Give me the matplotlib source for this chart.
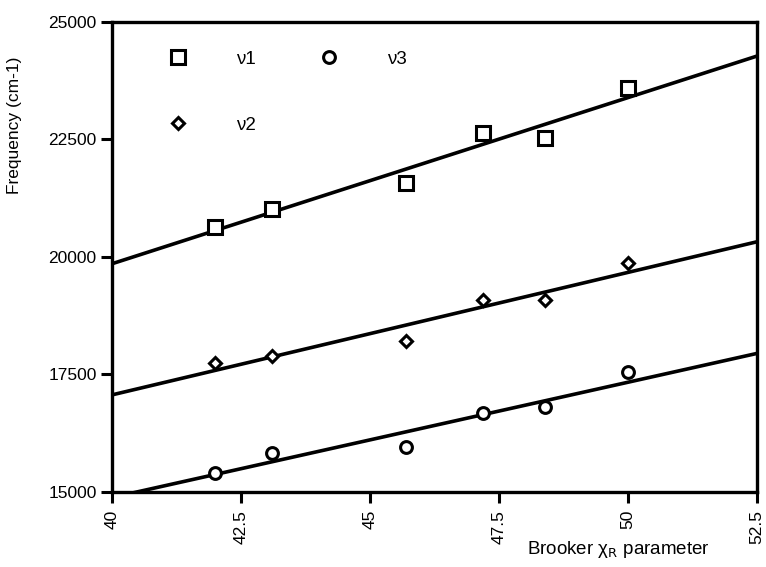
import numpy as np
import matplotlib
matplotlib.use("Agg")
import matplotlib.pyplot as plt

plt.rcParams['font.family'] = ['Liberation Sans', 'DejaVu Sans']

# Brooker chi_R parameter for each compound
chi_r = [42.0, 43.1, 45.7, 47.2, 48.4, 50.0]

# band frequencies (cm-1)
nu1 = [20640, 21020, 21570, 22640, 22530, 23600]
nu2 = [17740, 17890, 18210, 19085, 19085, 19870]
nu3 = [15400, 15830, 15960, 16680, 16800, 17550]

xticks = [40, 42.5, 45, 47.5, 50, 52.5]
xticklabels = ["40", "42.5", "45", "47.5", "50", "52.5"]
yticks = [15000, 17500, 20000, 22500, 25000]

fig = plt.figure(figsize=(7.66, 5.67), dpi=100)
ax = fig.add_axes([0.1462, 0.1323, 0.842, 0.829])

xfit = np.array([40, 52.5])
series = [
    (nu1, 's', 9.5, "ν1"),
    (nu2, 'D', 6, "ν2"),
    (nu3, 'o', 8.5, "ν3"),
]
handles = []
for vals, mk, ms, lab in series:
    # least squares line through each set
    p = np.polyfit(chi_r, vals, 1)
    ax.plot(xfit, np.polyval(p, xfit), color='black', lw=2.6, zorder=2)
    h, = ax.plot(chi_r, vals, linestyle='none', marker=mk, markersize=ms,
                 markerfacecolor='white', markeredgecolor='black',
                 markeredgewidth=2.2, zorder=3, label=lab)
    handles.append(h)

ax.set_xlim(40, 52.5)
ax.set_ylim(15000, 25000)
ax.set_xticks(xticks)
ax.set_xticklabels(xticklabels, rotation=90, fontsize=12.5)
ax.set_yticks(yticks)
ax.set_yticklabels([str(v) for v in yticks], fontsize=12.5)
ax.tick_params(axis='both', direction='out', length=8, width=2.2, colors='black')
ax.tick_params(axis='x', pad=5)
ax.tick_params(axis='y', pad=3)
for s in ax.spines.values():
    s.set_linewidth(2.4)

ax.set_ylabel("Frequency (cm-1)", fontsize=12.5)
ax.yaxis.set_label_coords(-0.14, 0.78)
ax.set_xlabel("Brooker χ$_\\mathrm{R}$ parameter", fontsize=13.5)
ax.xaxis.set_label_coords(0.785, -0.1)

leg = ax.legend(handles=handles, ncol=2, frameon=False, loc='upper left',
                bbox_to_anchor=(0.062, 0.975), handlelength=1.0,
                handletextpad=2.6, labelspacing=2.6, columnspacing=3.4,
                fontsize=13.5)

fig.savefig("out.png", dpi=100)
